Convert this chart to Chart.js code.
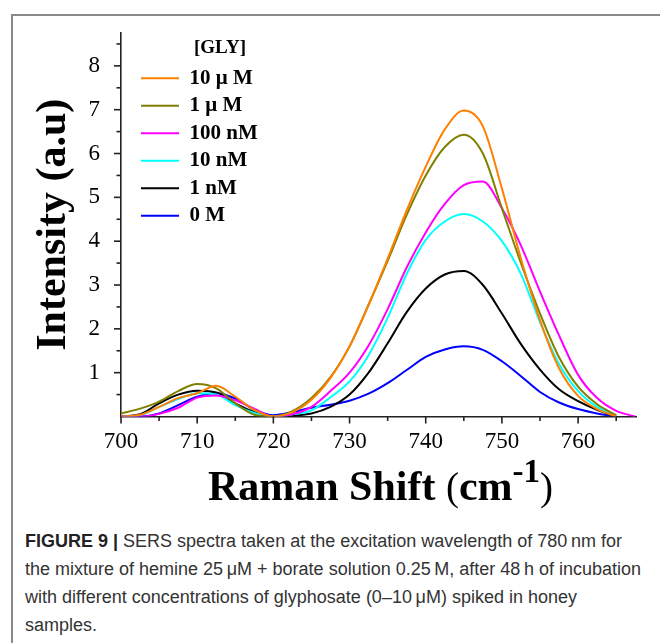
<!DOCTYPE html>
<html>
<head>
<meta charset="utf-8">
<script src="https://cdn.jsdelivr.net/npm/chart.js@4.4.1/dist/chart.umd.min.js"></script>
<style>
  html, body { margin: 0; padding: 0; background: #ffffff; }
  body { width: 660px; height: 643px; position: relative; overflow: hidden; }
  #frame { position: absolute; left: 11px; top: 14px; width: 720px; height: 720px; border: 2px solid #8a8a8a; box-sizing: border-box; }
  #wrap { position: absolute; left: 0; top: 0; width: 660px; height: 520px; }
  #caption { position: absolute; left: 25px; top: 527px; width: 634px; font-family: "Liberation Sans", Arial, sans-serif; font-size: 18px; line-height: 28px; color: #333; white-space: nowrap; }
  #caption b { color: #222; }
</style>
</head>
<body>
<div id="frame"></div>
<div id="wrap"><canvas id="chart" width="660" height="520"></canvas></div>
<div id="caption"><b>FIGURE 9 |</b> SERS spectra taken at the excitation wavelength of 780&#8201;nm for<br>the mixture of hemine 25&#8201;μM + borate solution 0.25&#8201;M, after 48&#8201;h of incubation<br>with different concentrations of glyphosate (0–10&#8201;μM) spiked in honey<br>samples.</div>
<script>
// ---- data ----
const ramanShift = [700, 702.5, 705, 707.5, 710, 712.5, 715, 717.5, 720, 722.5, 725, 727.5, 730, 732.5,
                    735, 737.5, 740, 742.5, 745, 747.5, 750, 752.5, 755, 757.5, 760, 762.5, 765, 767.5];
const seriesLabels = ['10 μ M', '1 μ M', '100 nM', '10 nM', '1 nM', '0 M'];
const seriesColors = ['#ff8000', '#808000', '#ff00ff', '#00ffff', '#000000', '#0000ff'];
const gly10uM  = [0, 0.04, 0.22, 0.42, 0.53, 0.70, 0.45, 0.15, 0.0, 0.10, 0.38, 0.88, 1.6, 2.55, 3.6, 4.7, 5.7, 6.55, 6.98, 6.62, 5.2, 3.6, 2.2, 1.1, 0.47, 0.17, 0.0, null];
const gly1uM   = [0.07, 0.18, 0.34, 0.58, 0.74, 0.64, 0.30, 0.04, 0.0, 0.12, 0.42, 0.9, 1.6, 2.55, 3.55, 4.6, 5.5, 6.15, 6.43, 6.0, 4.75, 3.5, 2.35, 1.35, 0.68, 0.28, 0.03, null];
const gly100nM = [0, 0, 0.06, 0.2, 0.43, 0.48, 0.37, 0.18, 0.0, 0.05, 0.22, 0.58, 1.0, 1.62, 2.45, 3.4, 4.2, 4.85, 5.28, 5.36, 4.75, 3.9, 2.85, 1.85, 0.95, 0.42, 0.13, 0];
const gly10nM  = [0, 0.03, 0.22, 0.4, 0.53, 0.5, 0.26, 0.08, 0, 0.05, 0.14, 0.44, 0.8, 1.4, 2.25, 3.25, 4.03, 4.45, 4.62, 4.45, 4.0, 3.25, 2.15, 1.2, 0.58, 0.22, 0.02, null];
const gly1nM   = [0, 0.05, 0.3, 0.5, 0.59, 0.55, 0.3, 0.1, 0, 0.02, 0.07, 0.22, 0.5, 1.0, 1.67, 2.38, 2.92, 3.24, 3.32, 3.0, 2.35, 1.65, 1.07, 0.62, 0.35, 0.15, 0, null];
const gly0M    = [0, 0, 0.07, 0.26, 0.45, 0.53, 0.41, 0.16, 0.03, 0.1, 0.2, 0.27, 0.36, 0.52, 0.76, 1.06, 1.36, 1.53, 1.6, 1.52, 1.26, 0.92, 0.56, 0.32, 0.17, 0.07, 0, null];
const seriesValues = [gly10uM, gly1uM, gly100nM, gly10nM, gly1nM, gly0M];

const xTickValues = [700, 710, 720, 730, 740, 750, 760];
const xMinorTicks = [705, 715, 725, 735, 745, 755, 765];
const yTickValues = [1, 2, 3, 4, 5, 6, 7, 8];
const yMinorTicks = [0.5, 1.5, 2.5, 3.5, 4.5, 5.5, 6.5, 7.5, 8.5];
const legendTitle = '[GLY]';
const yTitle = 'Intensity (a.u)';

const SERIF = '"Liberation Serif", "Times New Roman", serif';

const datasets = seriesLabels.map((label, i) => ({
  label,
  data: ramanShift.map((x, k) => ({ x, y: seriesValues[i][k] })),
  borderColor: seriesColors[i],
  backgroundColor: seriesColors[i],
  borderWidth: 2,
  pointRadius: 0,
  cubicInterpolationMode: 'monotone',
  fill: false,
  spanGaps: false
}));

const tickMarks = {
  id: 'tickMarks',
  afterDraw(chart) {
    const { ctx, chartArea, scales: { x, y } } = chart;
    ctx.save();
    ctx.strokeStyle = '#222';
    ctx.lineWidth = 1.6;
    const seg = (x1, y1, x2, y2) => { ctx.beginPath(); ctx.moveTo(x1, y1); ctx.lineTo(x2, y2); ctx.stroke(); };
    xTickValues.forEach(v => { const p = x.getPixelForValue(v); seg(p, chartArea.bottom, p, chartArea.bottom + 7); });
    xMinorTicks.forEach(v => { const p = x.getPixelForValue(v); seg(p, chartArea.bottom, p, chartArea.bottom + 4.5); });
    yTickValues.forEach(v => { const p = y.getPixelForValue(v); seg(chartArea.left - 7, p, chartArea.left, p); });
    yMinorTicks.forEach(v => { const p = y.getPixelForValue(v); seg(chartArea.left - 4.5, p, chartArea.left, p); });
    ctx.restore();
  }
};

const xTitle = {
  id: 'xTitle',
  afterDraw(chart) {
    const { ctx, chartArea } = chart;
    const parts = [
      { t: 'Raman Shift ', f: 'bold 42px ' + SERIF, dy: 0 },
      { t: '(', f: '39px ' + SERIF, dy: 0 },
      { t: 'cm', f: 'bold 42px ' + SERIF, dy: 0 },
      { t: '-1', f: 'bold 33px ' + SERIF, dy: -18 },
      { t: ')', f: '39px ' + SERIF, dy: 0 }
    ];
    ctx.save();
    ctx.fillStyle = '#000';
    ctx.textBaseline = 'alphabetic';
    ctx.textAlign = 'left';
    let total = 0;
    parts.forEach(p => { ctx.font = p.f; p.w = ctx.measureText(p.t).width; total += p.w; });
    let cx = (chartArea.left + chartArea.right) / 2 - total / 2 + 2;
    const baseY = 500;
    parts.forEach(p => { ctx.font = p.f; ctx.fillText(p.t, cx, baseY + p.dy); cx += p.w; });
    ctx.restore();
  }
};

const legendPlacer = {
  id: 'legendPlacer',
  afterLayout(chart) {
    const lg = chart.legend;
    if (!lg) return;
    lg.left = 134.5;
    lg.top = 38.5;
    lg.width = 171;
    lg.right = lg.left + lg.width;
    lg.height = 200;
    lg.bottom = lg.top + lg.height;
  }
};

new Chart(document.getElementById('chart'), {
  type: 'line',
  data: { datasets },
  plugins: [legendPlacer, tickMarks, xTitle],
  options: {
    responsive: false,
    animation: false,
    layout: { padding: { top: 33, right: 24, left: 0, bottom: 0 } },
    plugins: {
      tooltip: { enabled: false },
      legend: {
        display: true,
        position: 'chartArea',
        align: 'start',
        title: { display: true, text: legendTitle, color: '#000', position: 'center',
                 font: { family: SERIF, size: 19, weight: 'bold' }, padding: 0 },
        labels: {
          usePointStyle: true,
          pointStyle: 'line',
          pointStyleWidth: 38,
          boxHeight: 21,
          padding: 6.5,
          color: '#000',
          font: { family: SERIF, size: 21, weight: 'bold' }
        }
      }
    },
    scales: {
      x: {
        type: 'linear',
        min: 700,
        max: 767.6,
        afterFit: s => { s.height = 103.5; },
        afterBuildTicks: s => { s.ticks = xTickValues.map(v => ({ value: v })); },
        grid: { display: false },
        border: { display: true, color: '#222', width: 1.6 },
        ticks: { color: '#000', padding: 4, maxRotation: 0, autoSkip: false,
                 font: { family: SERIF, size: 23 } }
      },
      y: {
        type: 'linear',
        min: 0,
        max: 8.75,
        afterFit: s => { s.width = 121; },
        afterBuildTicks: s => { s.ticks = yTickValues.map(v => ({ value: v })); },
        grid: { display: false },
        border: { display: true, color: '#222', width: 1.6 },
        ticks: { color: '#000', padding: 13, autoSkip: false,
                 font: { family: SERIF, size: 23 } },
        title: { display: true, text: yTitle, color: '#000',
                 font: { family: SERIF, size: 42, weight: 'bold' }, padding: { top: 29, bottom: 0 } }
      }
    }
  }
});
</script>
</body>
</html>
